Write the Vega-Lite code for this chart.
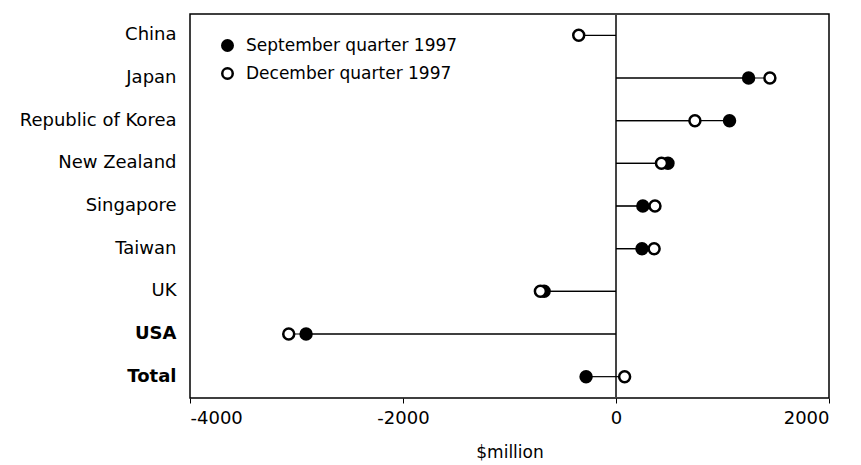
{
  "$schema": "https://vega.github.io/schema/vega-lite/v6.json",
  "width": 639,
  "height": 384,
  "autosize": {"type": "none"},
  "padding": {"left": 190, "top": 14, "right": 32, "bottom": 67},
  "background": "white",
  "config": {
    "view": {"stroke": "black", "strokeWidth": 1.5},
    "font": "DejaVu Sans"
  },
  "data": {
    "values": [
      {"country": "China", "quarter": "December quarter 1997", "value": -350},
      {"country": "Japan", "quarter": "September quarter 1997", "value": 1245},
      {"country": "Japan", "quarter": "December quarter 1997", "value": 1445},
      {"country": "Republic of Korea", "quarter": "September quarter 1997", "value": 1066},
      {"country": "Republic of Korea", "quarter": "December quarter 1997", "value": 741},
      {"country": "New Zealand", "quarter": "September quarter 1997", "value": 488},
      {"country": "New Zealand", "quarter": "December quarter 1997", "value": 427},
      {"country": "Singapore", "quarter": "September quarter 1997", "value": 252},
      {"country": "Singapore", "quarter": "December quarter 1997", "value": 366},
      {"country": "Taiwan", "quarter": "September quarter 1997", "value": 244},
      {"country": "Taiwan", "quarter": "December quarter 1997", "value": 358},
      {"country": "UK", "quarter": "September quarter 1997", "value": -675},
      {"country": "UK", "quarter": "December quarter 1997", "value": -710},
      {"country": "USA", "quarter": "September quarter 1997", "value": -2910},
      {"country": "USA", "quarter": "December quarter 1997", "value": -3073},
      {"country": "Total", "quarter": "September quarter 1997", "value": -281},
      {"country": "Total", "quarter": "December quarter 1997", "value": 81}
    ]
  },
  "encoding": {
    "y": {
      "field": "country",
      "type": "nominal",
      "sort": ["China", "Japan", "Republic of Korea", "New Zealand", "Singapore", "Taiwan", "UK", "USA", "Total"],
      "title": null,
      "axis": {
        "ticks": false,
        "domain": false,
        "labelFontSize": 18,
        "labelColor": "black",
        "labelPadding": 14,
        "labelLimit": 0,
        "labelFontWeight": {"expr": "datum.value === 'Total' || datum.value === 'USA' ? 'bold' : 'normal'"}
      }
    }
  },
  "layer": [
    {
      "mark": {"type": "rule", "color": "#444", "strokeWidth": 0.8},
      "encoding": {"x": {"datum": 0, "type": "quantitative"}, "y": null}
    },
    {
      "mark": {"type": "rule", "color": "black", "strokeWidth": 1.2},
      "encoding": {
        "x": {
          "field": "value",
          "type": "quantitative",
          "scale": {"domain": [-4000, 2000]},
          "title": "$million",
          "axis": {
            "values": [-4000, -2000, 0, 2000],
            "labelExpr": "toString(datum.value)",
            "grid": false,
            "domain": false,
            "tickColor": "black",
            "tickSize": 5,
            "labelFontSize": 18,
            "labelColor": "black",
            "labelPadding": 6,
            "titleFontSize": 17,
            "titleFontWeight": "normal",
            "titleColor": "black",
            "titlePadding": 17
          }
        },
        "x2": {"datum": 0}
      }
    },
    {
      "mark": {"type": "point", "filled": false, "shape": "circle", "size": 120, "stroke": "black", "strokeWidth": 2.5, "opacity": 1},
      "encoding": {
        "x": {"field": "value", "type": "quantitative"},
        "fill": {
          "field": "quarter",
          "type": "nominal",
          "scale": {"domain": ["September quarter 1997", "December quarter 1997"], "range": ["black", "white"]},
          "legend": {
            "title": null,
            "orient": "none",
            "legendX": 29,
            "legendY": 23,
            "labelFontSize": 17,
            "labelLimit": 0,
            "labelColor": "black",
            "symbolStrokeColor": "black",
            "symbolStrokeWidth": 2.5,
            "symbolSize": 110,
            "symbolType": "circle",
            "rowPadding": 7,
            "labelOffset": 10
          }
        },
        "order": {"field": "quarter", "sort": "descending"}
      }
    }
  ]
}
